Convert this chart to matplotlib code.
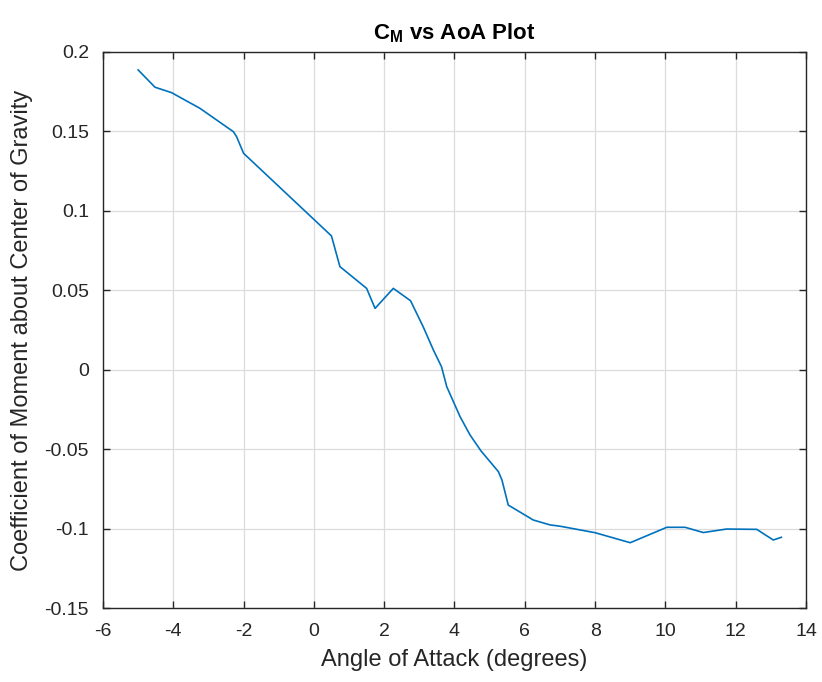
import matplotlib
matplotlib.use('Agg')
import matplotlib.pyplot as plt

# angle of attack (deg) and moment coefficient about the CG
aoa = [-5.0, -4.52, -4.05, -3.24, -2.29, -2.2, -2.0, 0.5, 0.74, 1.5, 1.74,
       2.26, 2.75, 3.11, 3.4, 3.63, 3.78, 4.16, 4.44, 4.75, 5.25, 5.35, 5.53,
       6.24, 6.72, 7.0, 8.0, 9.0, 10.04, 10.56, 11.08, 11.74, 12.6, 13.07, 13.3]
cm = [0.1887, 0.1778, 0.1744, 0.1645, 0.1498, 0.1467, 0.1362, 0.0842, 0.0649,
      0.0512, 0.0386, 0.0512, 0.0434, 0.027, 0.0124, 0.0019, -0.0107, -0.0296,
      -0.041, -0.051, -0.0642, -0.0694, -0.0852, -0.0946, -0.0977, -0.0985,
      -0.1026, -0.1089, -0.0992, -0.0992, -0.1025, -0.1003, -0.1005, -0.1072,
      -0.1055]

xticks = list(range(-6, 15, 2))
yticks = [-0.15, -0.1, -0.05, 0, 0.05, 0.1, 0.15, 0.2]
yticklabels = ['-0.15', '-0.1', '-0.05', '0', '0.05', '0.1', '0.15', '0.2']

plt.rcParams['font.family'] = ['Liberation Sans', 'DejaVu Sans']
plt.rcParams['axes.unicode_minus'] = False
plt.rcParams['mathtext.fontset'] = 'custom'
plt.rcParams['mathtext.rm'] = 'Liberation Sans'
plt.rcParams['mathtext.bf'] = 'Liberation Sans:bold'

fig = plt.figure(figsize=(8.22, 6.82), dpi=100)
ax = fig.add_axes([0.1253, 0.1085, 0.8552, 0.8153])

ax.plot(aoa, cm, color='#0072BD', linewidth=1.2)

ax.set_xlim(-6, 14)
ax.set_ylim(-0.15, 0.2)
ax.set_xticks(xticks)
ax.set_yticks(yticks)
ax.set_yticklabels(yticklabels)
ax.grid(True, color='#dcdcdc', linewidth=0.9)
ax.set_axisbelow(True)
ax.tick_params(direction='in', top=True, right=True, length=5, width=1,
               labelsize=14, colors='#262626')
ax.tick_params(axis='x', pad=11)
ax.tick_params(axis='y', pad=10)
for s in ax.spines.values():
    s.set_color('#262626')
    s.set_linewidth(1.0)

ax.set_xlabel('Angle of Attack (degrees)', fontsize=17, color='#262626', labelpad=6)
ax.set_ylabel('Coefficient of Moment about Center of Gravity', fontsize=17,
              color='#262626', labelpad=8)
ax.set_title(r'$\mathbf{C_M}$ vs AoA Plot', fontsize=16, fontweight='bold', pad=9)

fig.savefig('out.png', dpi=100)
